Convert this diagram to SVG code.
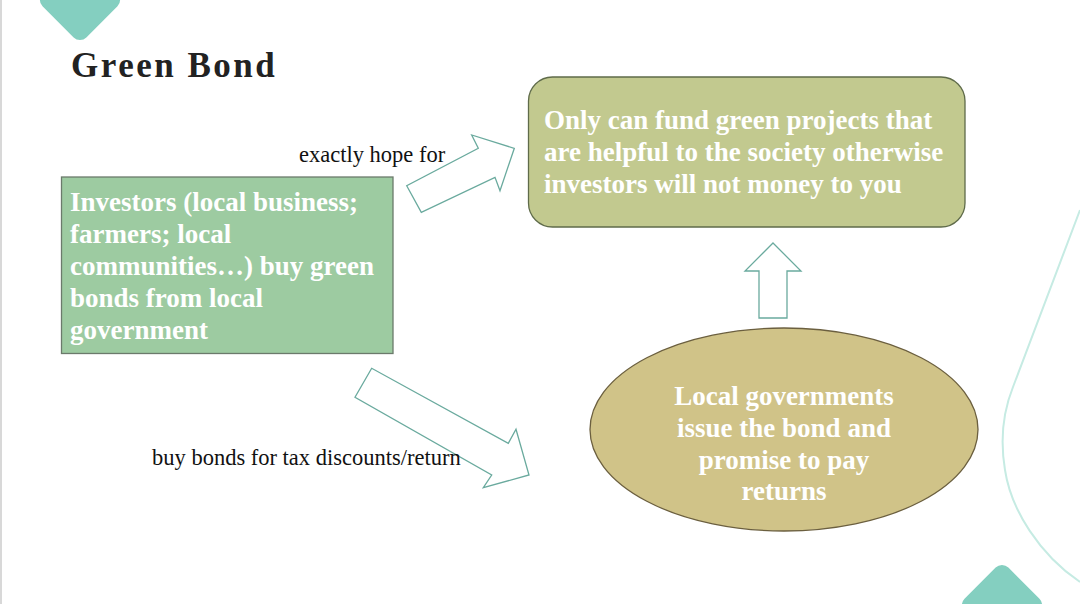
<svg xmlns="http://www.w3.org/2000/svg" width="1080" height="604" viewBox="0 0 1080 604">
<style>
.node-text{font-family:"Liberation Serif","Times New Roman",serif;font-weight:bold;font-size:27px;fill:#ffffff}
.label{font-family:"Liberation Serif","Times New Roman",serif;font-size:22.5px;fill:#111111}
.arrow{fill:#ffffff;stroke:#6aaa9e;stroke-width:1.3;stroke-linejoin:miter}
.deco{fill:#84cfc0}
</style>
<rect x="0" y="0" width="1080" height="604" fill="#ffffff"/>
<line x1="1" y1="0" x2="1" y2="604" stroke="#d8d8d8" stroke-width="2"/>
<g id="decorations">
  <rect class="deco" x="-31" y="-31" width="62" height="62" rx="9" transform="translate(80,0) rotate(45)"/>
  <rect class="deco" x="-31" y="-31" width="62" height="62" rx="9" transform="translate(1002,605) rotate(45)"/>
  <path d="M1080,210 L1013,387 C1003,412 1000,440 1005,470 C1011,510 1040,555 1080,582" fill="none" stroke="#c6ebe3" stroke-width="2"/>
</g>
<text x="71" y="77" font-family="'Liberation Serif','Times New Roman',serif" font-weight="bold" font-size="35" letter-spacing="2.5" fill="#222222">Green Bond</text>
<g id="connectors">
  <polygon class="arrow" points="406.7,185.7 421.3,212.3 495,177.3 500,190.7 514.3,148.3 471.7,135 478.3,148.3"/>
  <polygon class="arrow" points="371.7,368.3 355,397.3 491.7,475 483.3,487.7 529,475 516,429.3 508.3,443.3"/>
  <polygon class="arrow" points="773,243 801,271 787,271 787,318 759,318 759,271 745,271"/>
  <text class="label" x="299" y="162">exactly hope for</text>
  <text class="label" x="152" y="465">buy bonds for tax discounts/return</text>
</g>
<g id="investors">
  <rect x="61.5" y="177" width="331.5" height="176.5" fill="#9dcba1" stroke="#6b7a6b" stroke-width="1.3"/>
  <text class="node-text" x="70" y="211">Investors (local business;</text>
  <text class="node-text" x="70" y="243">farmers; local</text>
  <text class="node-text" x="70" y="275">communities…) buy green</text>
  <text class="node-text" x="70" y="307">bonds from local</text>
  <text class="node-text" x="70" y="339">government</text>
</g>
<g id="green-projects">
  <rect x="528.5" y="77" width="436.5" height="150" rx="24" fill="#c2c98f" stroke="#5f6b4a" stroke-width="1.3"/>
  <text class="node-text" x="544" y="129">Only can fund green projects that</text>
  <text class="node-text" x="544" y="161">are helpful to the society otherwise</text>
  <text class="node-text" x="544" y="193">investors will not money to you</text>
</g>
<g id="local-governments">
  <ellipse cx="784" cy="429.5" rx="194" ry="101.5" fill="#d0c388" stroke="#6b5f3f" stroke-width="1.3"/>
  <text class="node-text" x="784" y="405" text-anchor="middle">Local governments</text>
  <text class="node-text" x="784" y="437" text-anchor="middle">issue the bond and</text>
  <text class="node-text" x="784" y="468.5" text-anchor="middle">promise to pay</text>
  <text class="node-text" x="784" y="500" text-anchor="middle">returns</text>
</g>
</svg>
